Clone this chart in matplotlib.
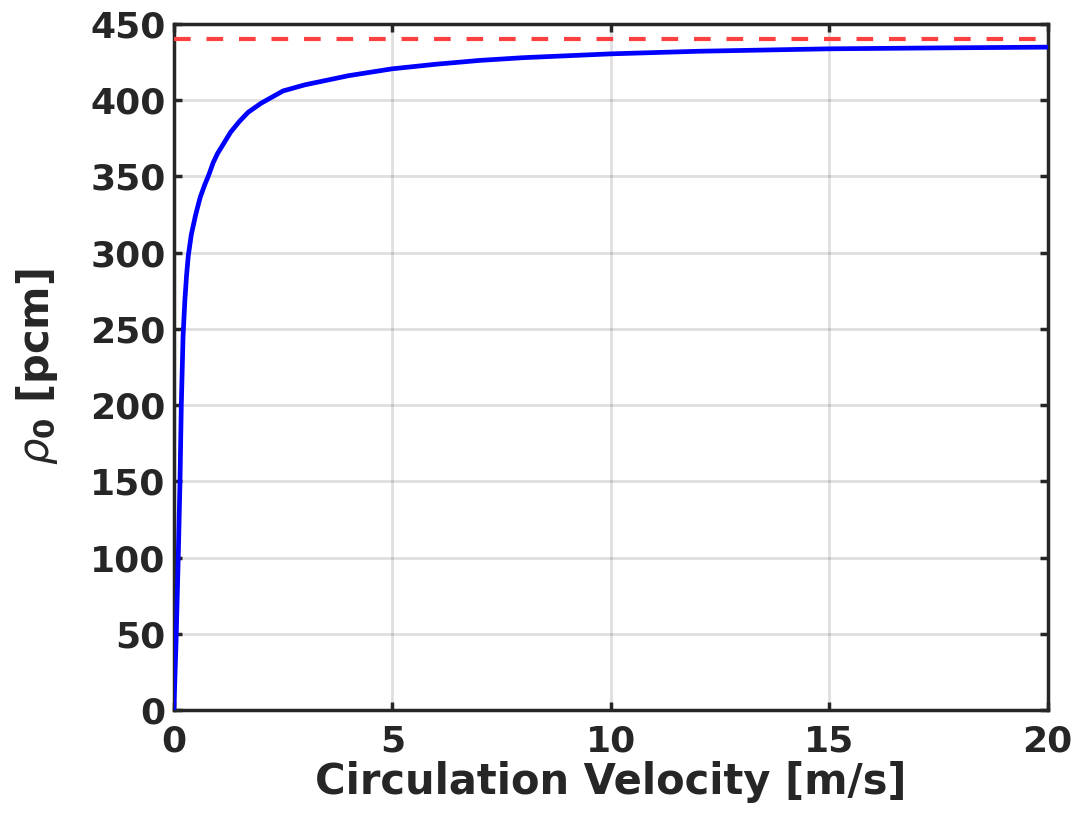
import numpy as np
import matplotlib.pyplot as plt

# values
velocity = [0, 0.05, 0.1, 0.14, 0.17, 0.21, 0.25, 0.29, 0.33, 0.4, 0.5, 0.6, 0.7,
            0.8, 0.9, 1.0, 1.15, 1.3, 1.5, 1.7, 2.0, 2.5, 3.0, 3.5, 4, 5, 6, 7,
            8, 10, 12, 15, 17.5, 20]
rho0 = [0, 45, 100, 150, 200, 245, 268, 285, 298, 312, 325, 336, 344,
        351, 359, 365, 372, 379, 386, 392, 398, 406, 410, 413, 416, 420.5, 423.5, 426,
        427.8, 430.3, 432, 433.6, 434.2, 434.7]
rho_limit = 440

dark = '#262626'
plt.rcParams['font.family'] = 'DejaVu Sans'

fig = plt.figure(figsize=(10.8, 8.21), dpi=100)
ax = fig.add_axes([0.161, 0.135, 0.809, 0.836])

ax.plot(velocity, rho0, color='#0000ff', lw=3.4, zorder=3)
ax.axhline(rho_limit, color='#ff4040', lw=3, dashes=(4.0, 3.8), zorder=3)

ax.set_xlim(0, 20)
ax.set_ylim(0, 450)
ax.set_xticks([0, 5, 10, 15, 20])
ax.set_yticks(np.arange(0, 451, 50))

ax.grid(True, color=dark, alpha=0.15, lw=2)
ax.set_axisbelow(True)
for s in ax.spines.values():
    s.set_color(dark)
    s.set_linewidth(2.5)
ax.tick_params(direction='in', length=6, width=2.5, color=dark, labelcolor=dark,
               labelsize=26, top=True, right=True, pad=6)
ax.tick_params(axis='x', pad=10)
for lab in ax.get_xticklabels() + ax.get_yticklabels():
    lab.set_fontweight('bold')

ax.set_xlabel('Circulation Velocity [m/s]', fontsize=30, fontweight='bold', color=dark, labelpad=2)
ax.set_ylabel(r'$\rho_\mathbf{0}$ [pcm]', fontsize=30, fontweight='bold', color=dark, labelpad=22)

fig.savefig('out.png', dpi=100)
